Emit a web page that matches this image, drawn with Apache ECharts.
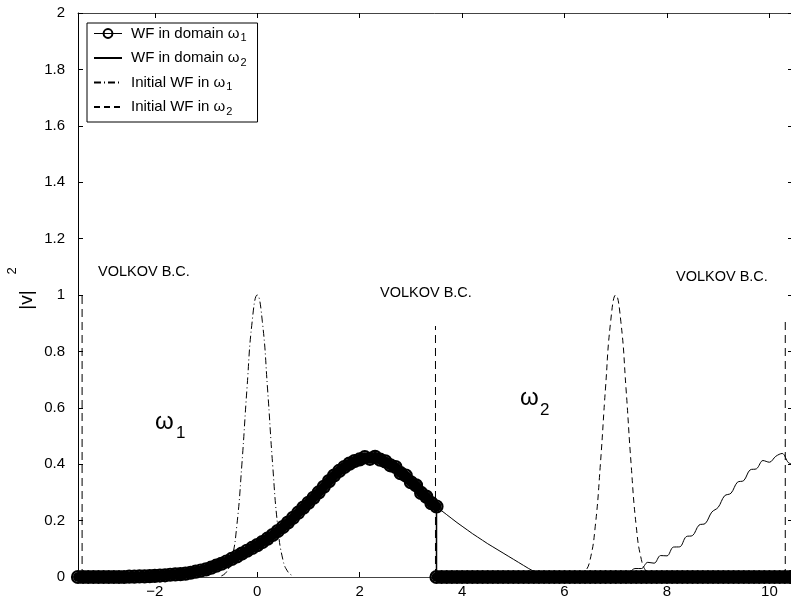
<!DOCTYPE html>
<html>
<head>
<meta charset="utf-8">
<script src="https://cdn.jsdelivr.net/npm/echarts@6.0.0/dist/echarts.min.js"></script>
<style>
  html, body { margin: 0; padding: 0; background: #fff; }
  #chart { width: 791px; height: 602px; }
</style>
</head>
<body>
<div id="chart"></div>
<script>
const W1_X0 = -3.5, W1_STEP = 0.1;
// WF in domain w1, x = -3.5 .. 3.5
const w1Curve = [
  0, 0, 0, 0, 0, 0, 0, 0, 0, 0,
  0.001, 0.001, 0.002, 0.002, 0.003, 0.004, 0.005, 0.006, 0.008, 0.009,
  0.010, 0.012, 0.015, 0.019, 0.023, 0.027, 0.033, 0.040, 0.047, 0.055,
  0.064, 0.073, 0.083, 0.093, 0.103, 0.113, 0.124, 0.136, 0.149, 0.163,
  0.177, 0.193, 0.210, 0.228, 0.246, 0.263, 0.281, 0.300, 0.320, 0.340,
  0.360, 0.376, 0.390, 0.402, 0.411, 0.417, 0.425, 0.419, 0.426, 0.416,
  0.410, 0.396, 0.390, 0.368, 0.360, 0.336, 0.325, 0.298, 0.285, 0.262,
  0.250
];
// WF in domain w1 beyond the interface, x = 3.5 .. 10.5
const w1Tail = [
  0, 0, 0, 0, 0, 0, 0, 0, 0, 0,
  0, 0, 0, 0, 0, 0, 0, 0, 0, 0,
  0, 0, 0, 0, 0, 0, 0, 0, 0, 0,
  0, 0, 0, 0, 0, 0, 0, 0, 0, 0,
  0, 0, 0, 0, 0, 0, 0, 0, 0, 0,
  0, 0, 0, 0, 0, 0, 0, 0, 0, 0,
  0, 0, 0, 0, 0, 0, 0, 0, 0, 0,
  0
];
// WF in domain w2, x = 3.5 .. 7.0 step 0.1
const w2Decay = [
  0.250, 0.235, 0.221, 0.207, 0.193, 0.180, 0.167, 0.154, 0.142, 0.130,
  0.118, 0.107, 0.096, 0.085, 0.074, 0.063, 0.052, 0.041, 0.030, 0.020,
  0.012, 0.006, 0.002, 0, 0, 0, 0, 0, 0, 0,
  0, 0, 0, 0, 0, 0
];
// WF in domain w2, x = 7.125 .. 10.5 step 0.125 (rippled)
const w2Rise = [
  0.006, 0.012, 0.030, 0.030, 0.052, 0.049, 0.076, 0.075, 0.106, 0.107,
  0.143, 0.147, 0.184, 0.190, 0.230, 0.247, 0.288, 0.297, 0.336, 0.342,
  0.380, 0.384, 0.413, 0.407, 0.428, 0.438, 0.405, 0.400
];
// initial gaussians, offsets -0.7 .. 0.7 step 0.1 around centres
const initCentres = [0, 7];
const initPulse = [0.004, 0.018, 0.062, 0.180, 0.400, 0.670, 0.905, 1.0, 0.905, 0.670, 0.400, 0.180, 0.062, 0.018, 0.004];
// Volkov boundary markers
const volkovX = [-3.42, 3.48, 10.31];
const volkovTop = [1.0, 0.89, 0.92];

const xTicks = [-2, 0, 2, 4, 6, 8, 10];
const names = ['WF in domain ω1', 'WF in domain ω2', 'Initial WF in ω1', 'Initial WF in ω2'];
const legendRich = {
  'WF in domain ω1': '{t|WF in domain ω}{s|1}',
  'WF in domain ω2': '{t|WF in domain ω}{s|2}',
  'Initial WF in ω1': '{t|Initial WF in ω}{s|1}',
  'Initial WF in ω2': '{t|Initial WF in ω}{s|2}'
};

const FONT = '"Liberation Sans", Arial, Helvetica, sans-serif';

const curvePts = w1Curve.map((v, i) => [+(W1_X0 + i * W1_STEP).toFixed(3), v]);
const tailPts = w1Tail.map((v, i) => [+(3.5 + i * 0.1).toFixed(3), v]);
const w1Data = curvePts.concat(tailPts);

const w2Data = [];
w2Decay.forEach((v, i) => w2Data.push([+(3.5 + i * 0.1).toFixed(3), v]));
w2Rise.forEach((v, i) => w2Data.push([+(7.125 + i * 0.125).toFixed(3), v]));

const pulse = (c) => initPulse.map((v, i) => [+(c - 0.7 + i * 0.1).toFixed(3), v]);

const chart = echarts.init(document.getElementById('chart'));

const axisBase = {
  type: 'value',
  splitLine: { show: false },
  axisTick: { inside: true, length: 5, lineStyle: { color: '#000', width: 1 } }
};

const volkovSeries = volkovX.map((x, i) => ({
  type: 'line',
  data: [[x, 0], [x, volkovTop[i]]],
  symbol: 'none',
  silent: true,
  lineStyle: { color: '#000', width: 1, type: [8, 5] },
  z: 2
}));

// solid core under the circle markers of w1
const bandSeries = [curvePts, tailPts].map((pts) => ({
  type: 'line',
  data: pts,
  symbol: 'none',
  silent: true,
  clip: false,
  lineStyle: { color: '#000', width: 10, cap: 'round', join: 'round' },
  z: 4
}));

const noDot = { opacity: 0, borderWidth: 0 };

chart.setOption({
  animation: false,
  backgroundColor: '#fff',
  textStyle: { fontFamily: FONT },
  grid: { left: 78, right: -4, top: 13, bottom: 25, outerBoundsMode: 'none', containLabel: false },
  xAxis: [
    Object.assign({}, axisBase, {
      min: -3.5, max: 10.5, splitNumber: 7, minInterval: 2, maxInterval: 2,
      position: 'bottom',
      axisLine: { onZero: false, lineStyle: { color: '#444', width: 1 } },
      axisLabel: {
        color: '#000', fontSize: 15, fontFamily: FONT, margin: 7,
        formatter: (v) => xTicks.includes(Math.round(v * 1000) / 1000) ? (v < 0 ? '−' + Math.abs(v) : String(v)) : ''
      }
    }),
    Object.assign({}, axisBase, {
      min: -3.5, max: 10.5, splitNumber: 7, minInterval: 2, maxInterval: 2,
      position: 'top',
      axisLine: { onZero: false, lineStyle: { color: '#444', width: 1 } },
      axisLabel: { show: false }
    })
  ],
  yAxis: [
    Object.assign({}, axisBase, {
      min: 0, max: 2, interval: 0.2, position: 'left',
      axisLine: { show: true, onZero: false, lineStyle: { color: '#000', width: 1 } },
      axisLabel: { color: '#000', fontSize: 15, fontFamily: FONT, margin: 13 }
    }),
    Object.assign({}, axisBase, {
      min: 0, max: 2, interval: 0.2, position: 'right',
      axisLine: { show: true, onZero: false, lineStyle: { color: '#000', width: 1 } },
      axisTick: { inside: true, length: 7, lineStyle: { color: '#000', width: 1 } },
      axisLabel: { show: false }
    })
  ],
  legend: {
    data: [
      { name: names[0], lineStyle: { width: 1 } },
      { name: names[1], itemStyle: noDot },
      { name: names[2], itemStyle: noDot },
      { name: names[3], itemStyle: noDot }
    ],
    orient: 'vertical',
    left: 87, top: 23,
    itemWidth: 28, itemHeight: 11, itemGap: 7,
    padding: [3, 11, 5, 6],
    backgroundColor: '#fff',
    borderColor: '#000', borderWidth: 1, borderRadius: 0,
    selectedMode: false,
    formatter: (n) => legendRich[n],
    textStyle: {
      color: '#000',
      rich: {
        t: { fontSize: 15, fontFamily: FONT, color: '#000', lineHeight: 17, padding: [0, 0, 0, 4] },
        s: { fontSize: 11, fontFamily: FONT, color: '#000', padding: [9, 0, 0, 1] }
      }
    }
  },
  series: [
    {
      name: names[1], type: 'line', data: w2Data, symbol: 'none',
      smooth: 0.35, lineStyle: { color: '#000', width: 1 }, itemStyle: { color: '#000' }, z: 3
    },
    {
      name: names[2], type: 'line', data: pulse(initCentres[0]), symbol: 'none',
      smooth: true, lineStyle: { color: '#000', width: 1, type: [7, 3, 1, 3] }, itemStyle: { color: '#000' }, z: 3
    },
    {
      name: names[3], type: 'line', data: pulse(initCentres[1]), symbol: 'none',
      smooth: true, lineStyle: { color: '#000', width: 1, type: [6, 4] }, itemStyle: { color: '#000' }, z: 3
    },
    ...volkovSeries,
    ...bandSeries,
    {
      name: names[0], type: 'line', data: w1Data,
      symbol: 'circle', symbolSize: 12, showAllSymbol: true, clip: false,
      itemStyle: { color: 'rgba(0,0,0,0)', borderColor: '#000', borderWidth: 2.2 },
      lineStyle: { color: '#000', width: 1.5 },
      z: 5
    }
  ],
  graphic: [
    { type: 'text', x: 98, y: 272, style: { text: 'VOLKOV B.C.', fontSize: 14.5, fontFamily: FONT, fill: '#000', verticalAlign: 'middle' } },
    { type: 'text', x: 380, y: 293, style: { text: 'VOLKOV B.C.', fontSize: 14.5, fontFamily: FONT, fill: '#000', verticalAlign: 'middle' } },
    { type: 'text', x: 676, y: 277, style: { text: 'VOLKOV B.C.', fontSize: 14.5, fontFamily: FONT, fill: '#000', verticalAlign: 'middle' } },
    { type: 'text', x: 155, y: 422, style: { text: 'ω', fontSize: 24, fontFamily: FONT, fill: '#000', verticalAlign: 'middle' } },
    { type: 'text', x: 176, y: 433, style: { text: '1', fontSize: 17, fontFamily: FONT, fill: '#000', verticalAlign: 'middle' } },
    { type: 'text', x: 520, y: 398, style: { text: 'ω', fontSize: 24, fontFamily: FONT, fill: '#000', verticalAlign: 'middle' } },
    { type: 'text', x: 540, y: 410, style: { text: '2', fontSize: 17, fontFamily: FONT, fill: '#000', verticalAlign: 'middle' } },
    { type: 'text', x: 27, y: 300, rotation: Math.PI / 2, style: { text: '|v|', fontSize: 19, fontFamily: FONT, fill: '#000', align: 'center', verticalAlign: 'middle' } },
    { type: 'text', x: 12, y: 271, rotation: Math.PI / 2, style: { text: '2', fontSize: 13, fontFamily: FONT, fill: '#000', align: 'center', verticalAlign: 'middle' } }
  ]
});
</script>
</body>
</html>
